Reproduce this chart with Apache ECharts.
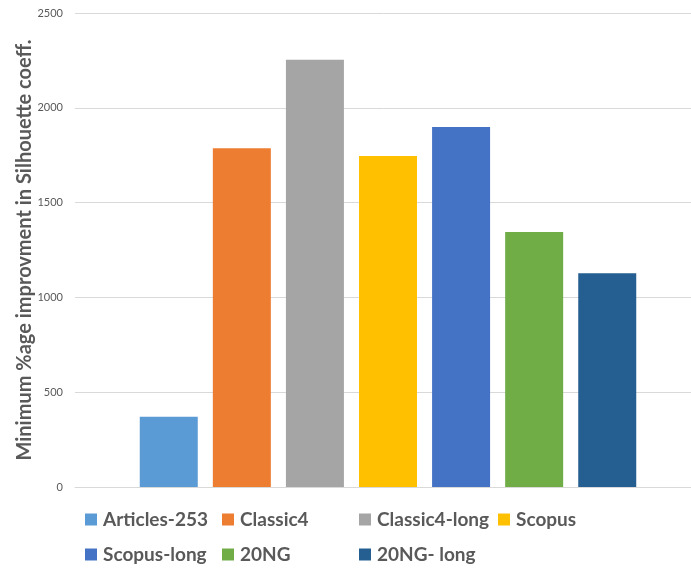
<!DOCTYPE html>
<html>
<head>
<meta charset="utf-8">
<script src="https://cdn.jsdelivr.net/npm/echarts@6/dist/echarts.min.js"></script>
<style>
  html, body { margin: 0; padding: 0; background: #fff; }
  #chart { width: 691px; height: 568px; }
</style>
</head>
<body>
<div id="chart"></div>
<script>
// Dataset names, their values and colours
const datasets = ['Articles-253', 'Classic4', 'Classic4-long', 'Scopus', 'Scopus-long', '20NG', '20NG- long'];
const improvement = [370, 1786, 2254, 1746, 1899, 1345, 1127];
const colors = ['#5B9BD5', '#ED7D31', '#A5A5A5', '#FFC000', '#4472C4', '#70AD47', '#255E91'];
const yTicks = [0, 500, 1000, 1500, 2000, 2500];

const FONT = 'Lato, "Open Sans", sans-serif';
const TEXT = '#595959';

const series = datasets.map((name, i) => ({
  name: name,
  type: 'bar',
  data: [improvement[i]],
  barWidth: 58,
  barGap: '26%',
  itemStyle: { color: colors[i] }
}));

// Legend laid out on a fixed two-row grid
const colX = [85, 222, 359, 498];
const rowY = [510, 545];
const legendPos = [[0, 0], [1, 0], [2, 0], [3, 0], [0, 1], [1, 1], [2, 1]];
const legends = datasets.map((name, i) => ({
  data: [name],
  left: colX[legendPos[i][0]],
  top: rowY[legendPos[i][1]],
  icon: 'rect',
  itemWidth: 12,
  itemHeight: 12,
  itemGap: 0,
  padding: 0,
  textStyle: { fontFamily: FONT, fontWeight: 'bold', fontSize: 19, color: TEXT, padding: [0, 0, 0, 1] }
}));

const chart = echarts.init(document.getElementById('chart'), null, { renderer: 'canvas' });
chart.setOption({
  animation: false,
  backgroundColor: '#fff',
  legend: legends,
  grid: { left: 75, right: -10, top: 13, bottom: 81, containLabel: false, outerBoundsMode: 'none' },
  xAxis: {
    type: 'category',
    data: [''],
    axisLine: { show: true, lineStyle: { color: '#D9D9D9', width: 1 } },
    axisTick: { show: false },
    axisLabel: { show: false }
  },
  yAxis: {
    type: 'value',
    min: yTicks[0],
    max: yTicks[yTicks.length - 1],
    interval: yTicks[1] - yTicks[0],
    name: 'Minimum %age improvment in Silhouette coeff.',
    nameLocation: 'middle',
    nameGap: 40,
    nameMoveOverlap: false,
    nameTextStyle: { fontFamily: FONT, fontWeight: 'bold', fontSize: 20, color: TEXT },
    axisLine: { show: false },
    axisTick: { show: false },
    axisLabel: { fontFamily: FONT, fontSize: 11, color: TEXT, margin: 12, formatter: v => String(v) },
    splitLine: { lineStyle: { color: '#D9D9D9', width: 1 } }
  },
  series: series
});
</script>
</body>
</html>
